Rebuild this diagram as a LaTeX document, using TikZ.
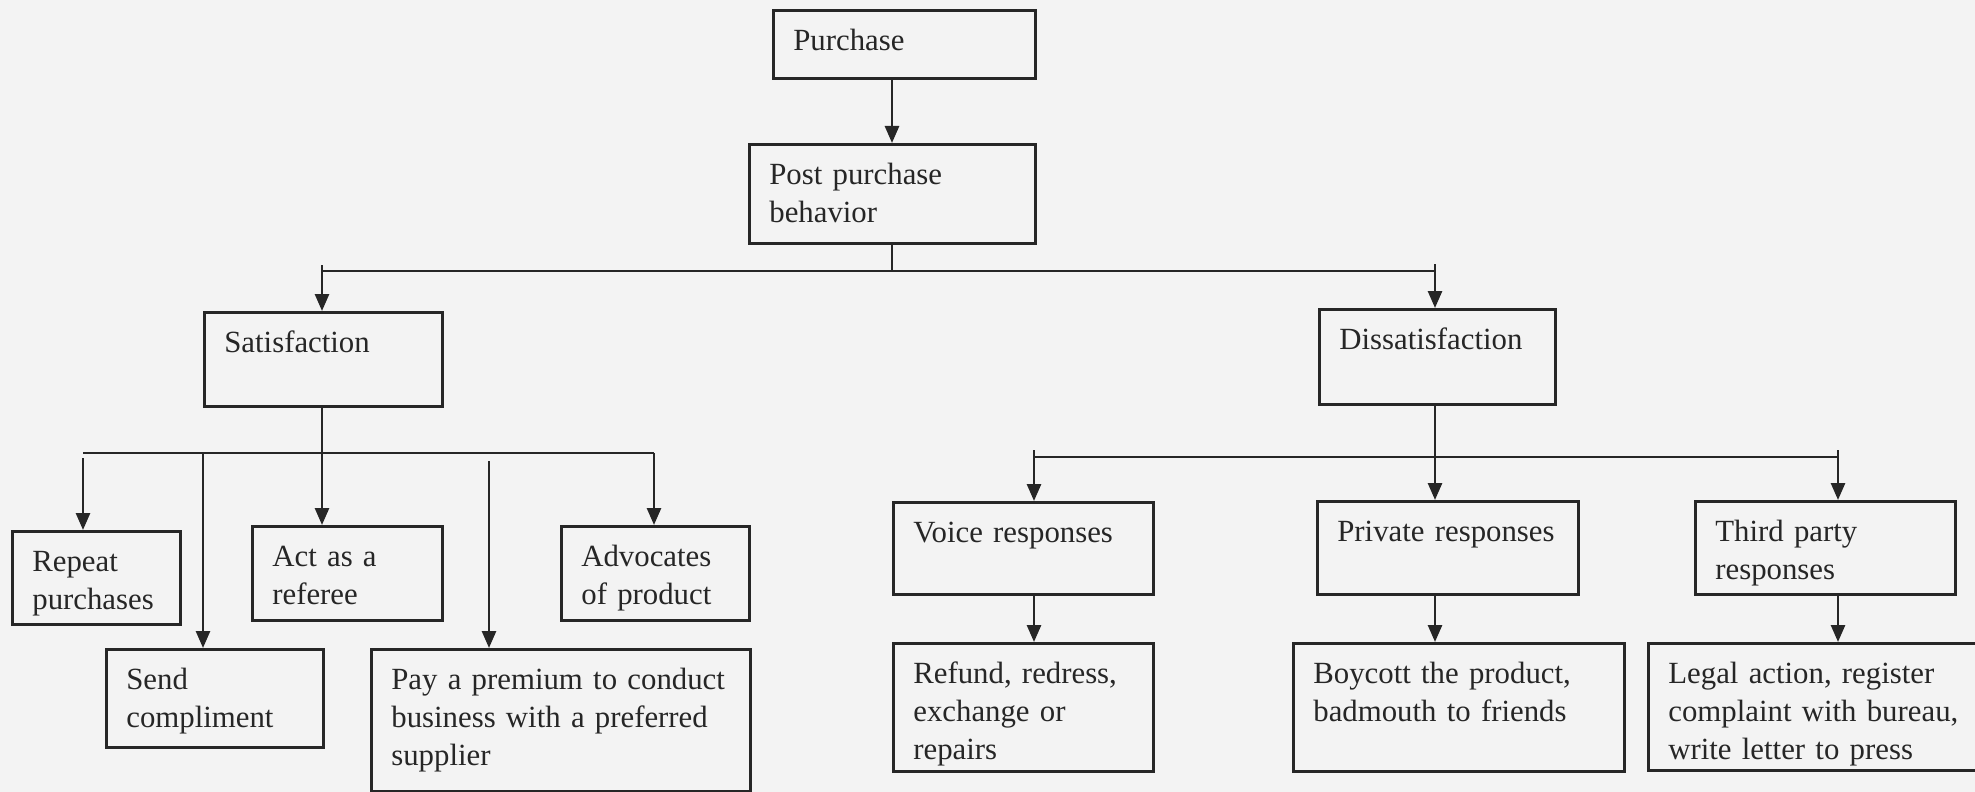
\documentclass[tikz,border=0pt]{standalone}
\usepackage{fontspec}
\setmainfont{Liberation Serif}
\usetikzlibrary{arrows.meta}
\definecolor{ink}{RGB}{38,38,38}
\definecolor{paper}{RGB}{243,243,243}
\begin{document}
\begin{tikzpicture}[x=0.5pt,y=-0.5pt,
  box/.style={draw=ink, line width=1.35pt, anchor=north west, align=left,
    inner xsep=10pt, inner ysep=0pt, text height=20pt,
    font=\fontsize{15.4}{19}\selectfont, text=ink},
  arr/.style={draw=ink, line width=1.35pt, -{Triangle[length=8.5pt,width=7pt]}},
  ln/.style={draw=ink, line width=1.35pt}]
\fill[paper] (0,0) rectangle (1975,792);
\useasboundingbox (0,0) rectangle (1975,792);

% boxes
\node[box, text width=111pt, text depth=14pt] (purchase) at (772,9) {\mbox{Purchase}};
\node[box, text width=123pt, text depth=29.5pt] (post) at (748,143) {\mbox{Post purchase}\\\mbox{behavior}};
\node[box, text width=99pt, text depth=27pt] (sat) at (203,311) {\mbox{Satisfaction}};
\node[box, text width=98pt, text depth=27.5pt] (dis) at (1318,308) {\mbox{Dissatisfaction}};
\node[box, text width=64pt, text depth=26.5pt] (rep) at (11,530) {\mbox{Repeat}\\\mbox{purchases}};
\node[box, text width=75pt, text depth=27pt] (act) at (251,525) {\mbox{Act as a}\\\mbox{referee}};
\node[box, text width=74pt, text depth=27pt] (adv) at (560,525) {\mbox{Advocates}\\\mbox{of product}};
\node[box, text width=88.5pt, text depth=29pt] (send) at (105,648) {\mbox{Send}\\\mbox{compliment}};
\node[box, text width=169.5pt, text depth=51pt] (pay) at (370,648) {\mbox{Pay a premium to conduct}\\\mbox{business with a preferred}\\\mbox{supplier}};
\node[box, text width=110pt, text depth=26pt] (voice) at (892,501) {\mbox{Voice responses}};
\node[box, text width=110.5pt, text depth=26.5pt] (priv) at (1316,500) {\mbox{Private responses}};
\node[box, text width=110pt, text depth=26.5pt] (third) at (1694,500) {\mbox{Third party}\\\mbox{responses}};
\node[box, text width=110pt, text depth=44pt] (refund) at (892,642) {\mbox{Refund, redress,}\\\mbox{exchange or}\\\mbox{repairs}};
\node[box, text width=145.5pt, text depth=44pt] (boy) at (1292,642) {\mbox{Boycott the product,}\\\mbox{badmouth to friends}};
\node[box, text width=146pt, text depth=43.5pt] (legal) at (1647,642) {\mbox{Legal action, register}\\\mbox{complaint with bureau,}\\\mbox{write letter to press}};

% top level
\coordinate (xa) at (892,0);
\coordinate (b1) at (892,271);
\draw[arr] (purchase.south -| xa) -- (post.north -| xa);
\draw[ln] (post.south -| xa) -- (b1);
\coordinate (b1L) at (322,265);
\coordinate (b1R) at (1435,264);
\draw[ln] (b1L |- b1) -- (b1R |- b1);
\draw[arr] (b1L) -- (sat.north -| b1L);
\draw[arr] (b1R) -- (dis.north -| b1R);

% satisfaction branch
\coordinate (b2L) at (83,453);
\coordinate (b2R) at (654,453);
\coordinate (xr) at (83,458);
\coordinate (xs) at (203,453);
\coordinate (xp) at (489,461);
\draw[ln] (b2L) -- (b2R);
\draw[arr] (sat.south -| b1L) -- (b1L |- act.north);
\draw[arr] (xr) -- (xr |- rep.north);
\draw[arr] (xs) -- (xs |- send.north);
\draw[arr] (xp) -- (xp |- pay.north);
\draw[arr] (b2R) -- (b2R |- adv.north);

% dissatisfaction branch
\coordinate (b3) at (0,457);
\coordinate (b3L) at (1034,450);
\coordinate (b3R) at (1838,450);
\draw[ln] (b3L |- b3) -- (b3R |- b3);
\draw[arr] (dis.south -| b1R) -- (b1R |- priv.north);
\draw[arr] (b3L) -- (b3L |- voice.north);
\draw[arr] (b3R) -- (b3R |- third.north);
\draw[arr] (voice.south -| b3L) -- (refund.north -| b3L);
\draw[arr] (priv.south -| b1R) -- (boy.north -| b1R);
\draw[arr] (third.south -| b3R) -- (legal.north -| b3R);
\end{tikzpicture}
\end{document}
